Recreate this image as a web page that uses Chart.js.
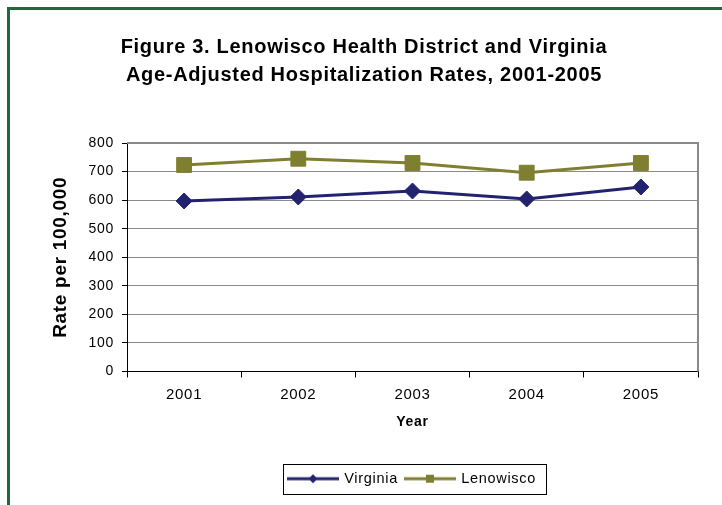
<!DOCTYPE html>
<html>
<head>
<meta charset="utf-8">
<script src="https://cdn.jsdelivr.net/npm/chart.js@4.4.1/dist/chart.umd.min.js"></script>
<style>
  body { margin: 0; background: #fff; }
  #wrap { position: relative; width: 722px; height: 505px; }
  #frame { position: absolute; left: 7px; top: 7px; width: 730px; height: 520px;
           border-top: 3px solid #1f6a3a; border-left: 3px solid #1f6a3a; box-sizing: border-box; }
  canvas { position: absolute; left: 0; top: 0; }
</style>
</head>
<body>
<div id="wrap">
  <div id="frame"></div>
  <canvas id="myChart-1" width="722" height="505"></canvas>
</div>
<script>
const years = ["2001", "2002", "2003", "2004", "2005"];
const virginia = [597, 611, 632, 604, 646];
const lenowisco = [723, 745, 730, 696, 730];
const yTicks = [0, 100, 200, 300, 400, 500, 600, 700, 800];

const navy = '#22226e';
const olive = '#7f7f30';
const font = "'Liberation Sans', Arial, sans-serif";

// little line+marker pictures for the legend, like Excel does
function legendIcon(color, shape) {
  const c = document.createElement('canvas');
  c.width = 52; c.height = 12;
  const g = c.getContext('2d');
  g.strokeStyle = color; g.lineWidth = 3;
  g.beginPath(); g.moveTo(0, 6); g.lineTo(52, 6); g.stroke();
  g.fillStyle = color;
  g.beginPath();
  if (shape === 'diamond') {
    g.moveTo(26, 1.5); g.lineTo(30.5, 6); g.lineTo(26, 10.5); g.lineTo(21.5, 6);
  } else {
    g.rect(22, 2, 8, 8);
  }
  g.fill();
  return c;
}
const legendIcons = [legendIcon(navy, 'diamond'), legendIcon(olive, 'square')];

// the original text is spread out a bit
const spacing = {
  id: 'spacing',
  beforeLayout(chart) { chart.ctx.letterSpacing = '0.7px'; },
  beforeDraw(chart) { chart.ctx.letterSpacing = '0.7px'; }
};

const frameBits = {
  id: 'frameBits',
  afterDraw(chart) {
    const { ctx, chartArea: a } = chart;
    ctx.save();
    // top and right edge of the plot box
    ctx.strokeStyle = '#8a8a8a';
    ctx.lineWidth = 2;
    ctx.beginPath();
    ctx.moveTo(a.left, a.top); ctx.lineTo(a.right, a.top); ctx.lineTo(a.right, a.bottom);
    ctx.stroke();
    // box round the legend
    const boxes = chart.legend.legendHitBoxes;
    if (boxes && boxes.length) {
      const l = Math.min(...boxes.map(b => b.left)) - 6;
      const r = Math.max(...boxes.map(b => b.left + b.width)) + 10;
      const t = boxes[0].top + boxes[0].height / 2 - 15;
      ctx.strokeStyle = '#000';
      ctx.lineWidth = 1;
      ctx.strokeRect(Math.round(l) + 0.5, Math.round(t) + 0.5, Math.round(r - l), 30);
    }
    ctx.restore();
  }
};

const ctx = document.getElementById('myChart-1');
new Chart(ctx, {
  type: 'line',
  data: {
    labels: years,
    datasets: [{
      label: 'Virginia',
      data: virginia,
      borderColor: navy,
      backgroundColor: navy,
      borderWidth: 3,
      pointStyle: 'rectRot',
      pointRadius: 8,
      pointBorderWidth: 1,
      tension: 0
    }, {
      label: 'Lenowisco',
      data: lenowisco,
      borderColor: olive,
      backgroundColor: olive,
      borderWidth: 3,
      pointStyle: 'rect',
      pointRadius: 10.5,
      pointBorderWidth: 1,
      tension: 0
    }]
  },
  options: {
    responsive: false,
    animation: false,
    layout: { padding: { top: 20, left: 30, right: 24, bottom: 9 } },
    plugins: {
      title: {
        display: true,
        text: ['Figure 3. Lenowisco Health District and Virginia', 'Age-Adjusted Hospitalization Rates, 2001-2005'],
        color: '#000',
        font: { family: font, size: 20, weight: 'bold', lineHeight: 1.4 },
        padding: { top: 13, bottom: 54 }
      },
      legend: {
        position: 'bottom',
        fullSize: false,
        labels: {
          usePointStyle: true,
          pointStyleWidth: 48,
          padding: 8,
          color: '#000',
          font: { family: font, size: 14.5 },
          generateLabels: (chart) => Chart.defaults.plugins.legend.labels.generateLabels(chart)
            .map((l, i) => ({ ...l, pointStyle: legendIcons[i] }))
        }
      },
      tooltip: { enabled: false }
    },
    scales: {
      y: {
        min: 0,
        max: 800,
        afterBuildTicks: (s) => { s.ticks = yTicks.map(v => ({ value: v })); },
        afterFit: (s) => { s.width = 97; },
        border: { color: '#000', width: 1 },
        grid: { color: '#8a8a8a', lineWidth: 1, tickColor: '#000', tickLength: 5 },
        ticks: { color: '#000', padding: 8, font: { family: font, size: 14 } },
        title: {
          display: true,
          text: 'Rate per 100,000',
          color: '#000',
          font: { family: font, size: 19, weight: 'bold' },
          padding: { top: 19, bottom: 0 }
        }
      },
      x: {
        offset: true,
        afterFit: (s) => { s.height = 92; },
        border: { color: '#000', width: 1 },
        grid: { offset: true, color: 'rgba(0,0,0,0)', tickColor: '#000', tickLength: 6 },
        ticks: { color: '#000', padding: 8, font: { family: font, size: 15 } },
        title: {
          display: true,
          text: 'Year',
          color: '#000',
          font: { family: font, size: 14, weight: 'bold' },
          padding: { top: 0, bottom: 33 }
        }
      }
    }
  },
  plugins: [spacing, frameBits]
});
</script>
</body>
</html>
